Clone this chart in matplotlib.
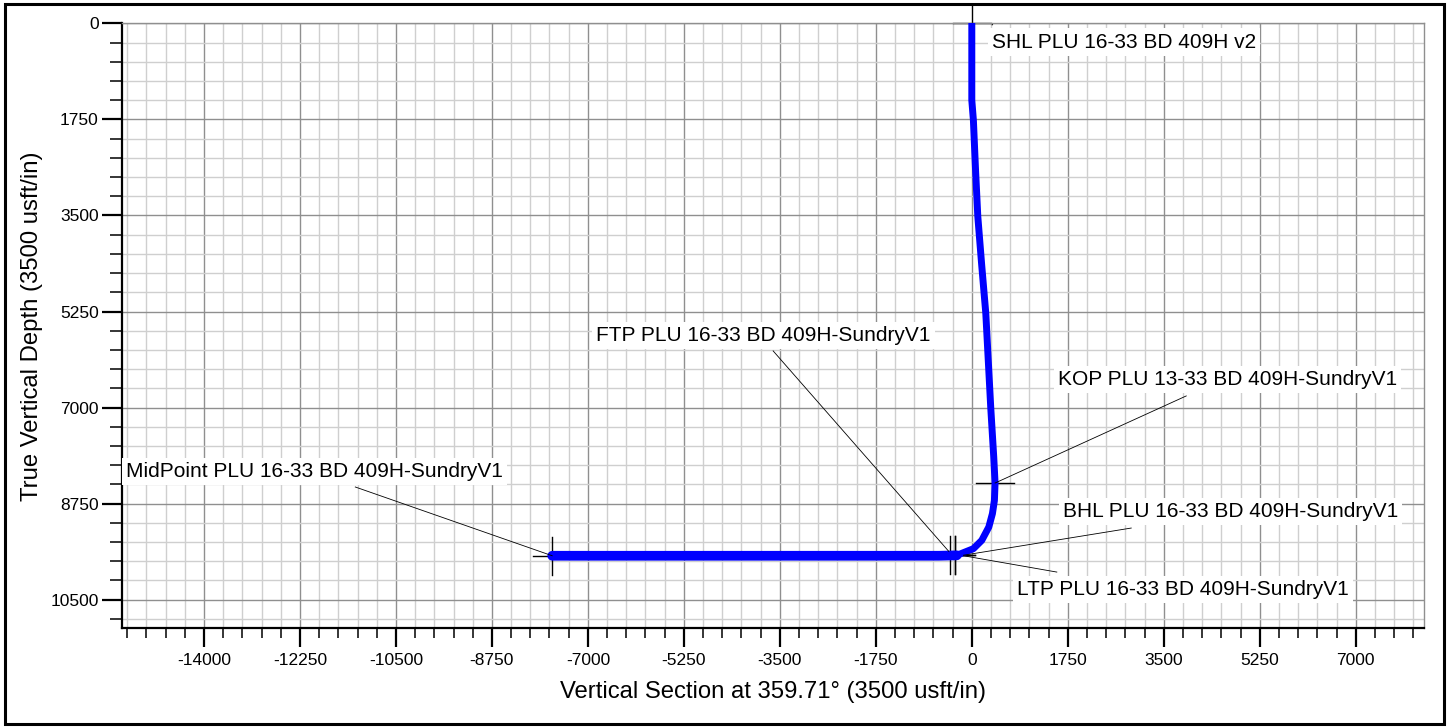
import matplotlib
matplotlib.use("Agg")
import matplotlib.pyplot as plt
from matplotlib.patches import Rectangle
from matplotlib.ticker import MultipleLocator

plt.rcParams['font.family'] = ['Liberation Sans', 'DejaVu Sans']

# Well path: vertical section (usft) vs true vertical depth (usft)
vs = [0, 0, 29, 65, 109, 180, 255, 346, 400, 424, 412, 376, 310, 182, 29, -273, -600, -7650]
tvd = [0, 1400, 1765, 2600, 3513, 4400, 5281, 7012, 7900, 8375, 8694, 8932, 9177, 9419, 9571, 9692, 9700, 9700]

# Named target points
pt_names = ["SHL PLU 16-33 BD 409H v2", "KOP PLU 13-33 BD 409H-SundryV1",
            "FTP PLU 16-33 BD 409H-SundryV1", "BHL PLU 16-33 BD 409H-SundryV1",
            "LTP PLU 16-33 BD 409H-SundryV1", "MidPoint PLU 16-33 BD 409H-SundryV1"]
pt_vs = [0, 424, -390, -300, -300, -7650]
pt_tvd = [0, 8375, 9690, 9690, 9690, 9700]

# Label anchor (left edge, vertical centre) and leader start for each point
lbl_x = [370, 1573, -6849, 1664, 826, -15416]
lbl_y = [341, 6484, 5682, 8890, 10312, 8161]
lead_x = [370, 3910, -3622, 2907, 1550, -11241]
lead_y = [30, 6788, 5968, 9195, 9997, 8447]
lead_end_x = [380, 424, -420, -150, -150, -7650]
lead_end_y = [20, 8375, 9620, 9690, 9700, 9700]

x_major = list(range(-14000, 7001, 1750))
y_major = list(range(0, 10501, 1750))

fig = plt.figure(figsize=(14.47, 7.27), dpi=100)
ax = fig.add_axes([0.0841, 0.1355, 0.9002, 0.8324])

ax.set_xlim(-15500, 8250)
ax.set_ylim(11025, 0)

ax.xaxis.set_minor_locator(MultipleLocator(350))
ax.yaxis.set_minor_locator(MultipleLocator(350))
ax.set_xticks(x_major)
ax.set_yticks(y_major)
ax.set_xticklabels([str(v) for v in x_major])
ax.set_yticklabels([str(v) for v in y_major])

ax.grid(which='minor', color='#cfcfcf', lw=1.0, zorder=0)
ax.grid(which='major', color='#8f8f8f', lw=1.0, zorder=0)
ax.set_axisbelow(True)

ax.tick_params(axis='both', which='major', labelsize=12.5, width=1.6, color='black')
ax.tick_params(axis='x', which='major', length=14, pad=4)
ax.tick_params(axis='y', which='major', length=14.5, pad=2)
ax.tick_params(axis='x', which='minor', length=7, width=1.1)
ax.tick_params(axis='y', which='minor', length=8.5, width=1.1)

for side in ('left', 'bottom'):
    ax.spines[side].set_color('black')
    ax.spines[side].set_linewidth(1.6)
for side in ('top', 'right'):
    ax.spines[side].set_color('#8f8f8f')
    ax.spines[side].set_linewidth(1.0)

ax.set_xlabel("Vertical Section at 359.71° (3500 usft/in)", fontsize=17.2, labelpad=9)
ax.set_ylabel("True Vertical Depth (3500 usft/in)", fontsize=17.2)
ax.yaxis.set_label_coords(-0.0605, 0.5)

# Point markers (crosses) drawn beneath the well path
arm = 350
for x, y in zip(pt_vs, pt_tvd):
    ax.plot([x - arm, x + arm], [y, y], color='black', lw=1.0, zorder=2, clip_on=False)
    ax.plot([x, x], [y - arm, y + arm], color='black', lw=1.0, zorder=2, clip_on=False)

# Well path
ax.plot(vs, tvd, color='#0000ff', lw=5.0, solid_capstyle='round',
        solid_joinstyle='round', zorder=3)
lat_vs = [v for v, d in zip(vs, tvd) if d >= 9692]
lat_tvd = [d for d in tvd if d >= 9692]
ax.plot(lat_vs, lat_tvd, color='#0000ff', lw=7.0, solid_capstyle='round', zorder=3)

# Leader lines and labels
for i, name in enumerate(pt_names):
    ax.plot([lead_x[i], lead_end_x[i]], [lead_y[i], lead_end_y[i]],
            color='black', lw=0.6, zorder=4)
    ax.text(lbl_x[i], lbl_y[i], name, fontsize=15, ha='left', va='center',
            zorder=5, bbox=dict(facecolor='white', edgecolor='none', pad=3))

# Figure frame
fig.patches.append(Rectangle((0.0035, 0.004), 0.9945, 0.991, transform=fig.transFigure,
                             fill=False, edgecolor='black', lw=2.2))

fig.savefig("out.png", dpi=100)
